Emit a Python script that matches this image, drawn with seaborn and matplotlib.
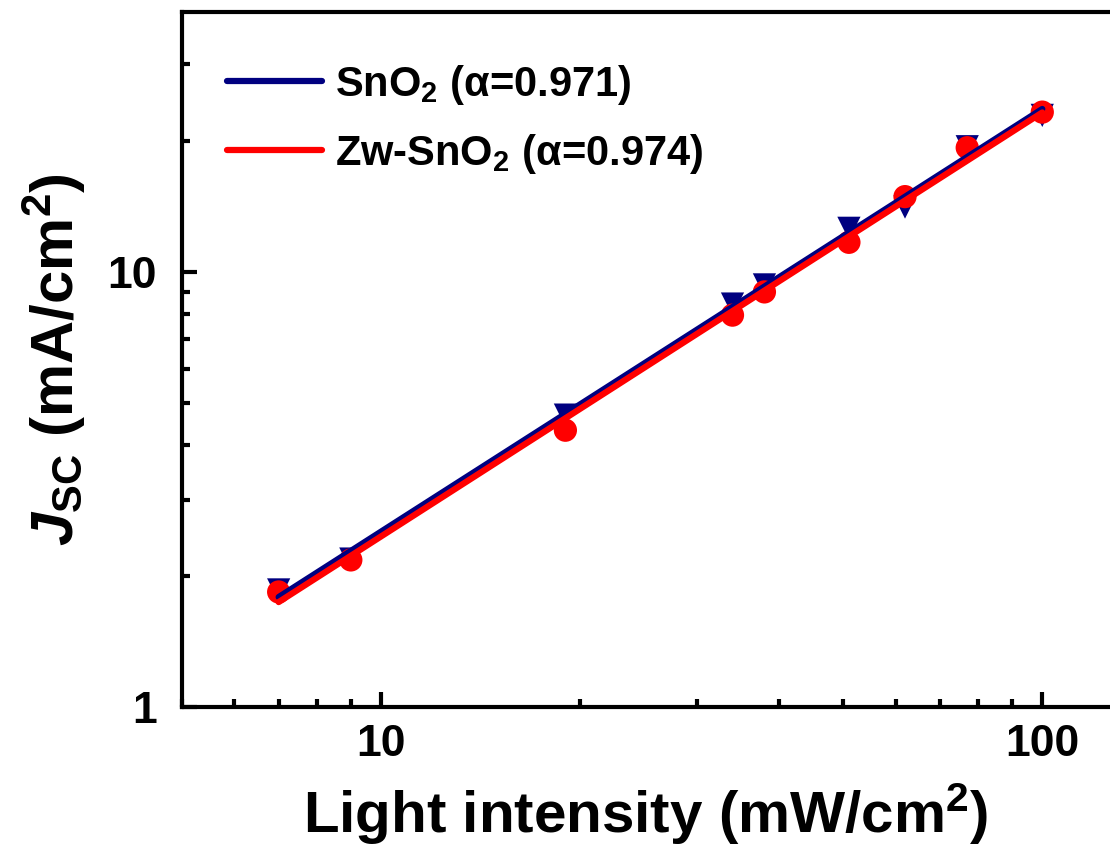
import numpy as np
import pandas as pd
import seaborn as sns
import matplotlib.pyplot as plt
from matplotlib.ticker import LogLocator, NullFormatter, FixedLocator, FixedFormatter

sns.set_theme(style="ticks")
plt.rcParams["font.family"] = ["Liberation Sans", "DejaVu Sans"]
plt.rcParams["font.weight"] = "bold"
plt.rcParams["mathtext.fontset"] = "custom"
plt.rcParams["mathtext.rm"] = "Liberation Sans:bold"
plt.rcParams["mathtext.it"] = "Liberation Sans:bold:italic"
plt.rcParams["mathtext.bf"] = "Liberation Sans:bold"
for k in ["text.color", "axes.labelcolor", "xtick.color", "ytick.color"]:
    plt.rcParams[k] = "black"

# light intensity (mW/cm2)
intensity = [7, 9, 19, 34, 38, 51, 62, 77, 100]
# Jsc (mA/cm2)
jsc_sno2 = [1.86, 2.19, 4.69, 8.44, 9.34, 12.6, 14.1, 19.4, 22.9]
jsc_zw = [1.84, 2.18, 4.33, 7.96, 9.0, 11.7, 14.9, 19.3, 23.3]
alpha_sno2 = 0.971
alpha_zw = 0.974
labels = [r"SnO$_2$ (α=0.971)", r"Zw-SnO$_2$ (α=0.974)"]


def power_fit(x, y, alpha):
    # fixed slope in log-log space, intercept from data
    lx, ly = np.log10(x), np.log10(y)
    b = np.mean(ly - alpha * lx)
    return 10 ** (b + alpha * lx)


df = pd.DataFrame({
    "x": intensity * 2,
    "y": jsc_sno2 + jsc_zw,
    "fit": list(power_fit(intensity, jsc_sno2, alpha_sno2)) + list(power_fit(intensity, jsc_zw, alpha_zw)),
    "sample": [labels[0]] * len(intensity) + [labels[1]] * len(intensity),
})

colors = {labels[0]: "#000080", labels[1]: "#ff0000"}

fig = plt.figure(figsize=(11.1, 8.47), dpi=100)
ax = fig.add_axes([0.164, 0.165, 0.836, 0.821])

sns.scatterplot(data=df, x="x", y="y", hue="sample", style="sample",
                markers={labels[0]: "v", labels[1]: "o"}, palette=colors,
                s=280, edgecolor="none", legend=False, ax=ax, zorder=2)
sns.lineplot(data=df, x="x", y="fit", hue="sample", palette=colors,
             linewidth=4.5, ax=ax, zorder=3)

ax.set_xscale("log")
ax.set_yscale("log")
ax.set_xlim(5, 126.6)
ax.set_ylim(1, 39.6)

ax.xaxis.set_major_locator(FixedLocator([10, 100]))
ax.xaxis.set_major_formatter(FixedFormatter(["10", "100"]))
ax.xaxis.set_minor_locator(LogLocator(base=10, subs=np.arange(2, 10)))
ax.xaxis.set_minor_formatter(NullFormatter())
ax.yaxis.set_major_locator(FixedLocator([1, 10]))
ax.yaxis.set_major_formatter(FixedFormatter(["1", "10"]))
ax.yaxis.set_minor_locator(LogLocator(base=10, subs=np.arange(2, 10)))
ax.yaxis.set_minor_formatter(NullFormatter())

ax.tick_params(which="major", direction="in", length=11, width=3, labelsize=32, pad=12)
ax.tick_params(which="minor", direction="in", length=6, width=3)
ax.tick_params(axis="y", which="major", pad=18)
for side in ["left", "bottom", "top"]:
    ax.spines[side].set_linewidth(3)
    ax.spines[side].set_color("black")
ax.spines["right"].set_visible(False)

ax.set_xlabel(r"Light intensity (mW/cm$^2$)", fontsize=42, fontweight="bold", labelpad=12)
ax.set_ylabel(r"$J_{\mathrm{SC}}$ (mA/cm$^2$)", fontsize=43, fontweight="bold", labelpad=14)

leg = ax.legend(loc="upper left", frameon=False, fontsize=30, handlelength=2.3,
                handletextpad=0.3, labelspacing=0.6, borderaxespad=0.4,
                bbox_to_anchor=(0.012, 0.975))
for t in leg.get_texts():
    t.set_fontweight("bold")

fig.savefig("out.png", dpi=100)
